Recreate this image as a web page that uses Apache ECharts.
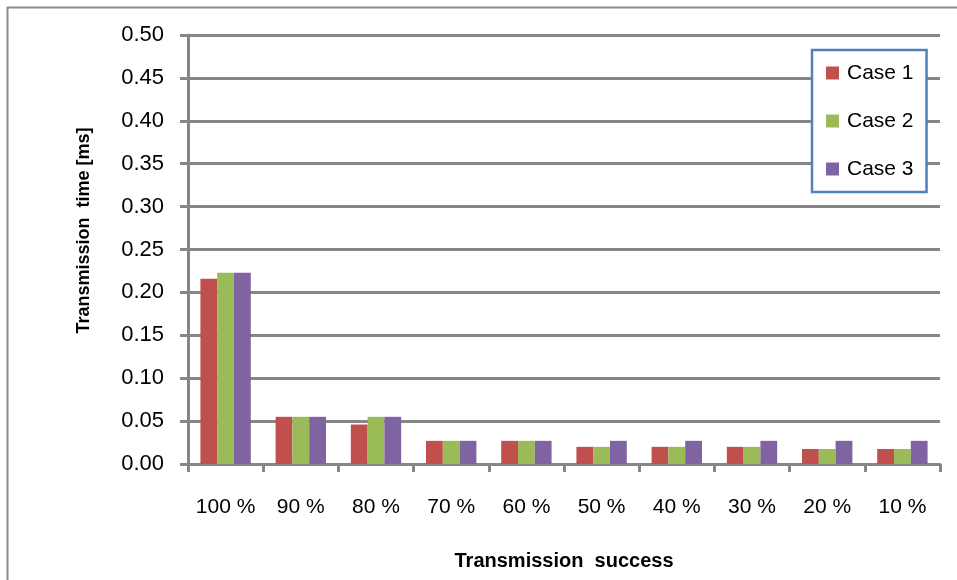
<!DOCTYPE html>
<html>
<head>
<meta charset="utf-8">
<script src="https://cdn.jsdelivr.net/npm/echarts@6/dist/echarts.min.js"></script>
<style>
  html, body { margin: 0; padding: 0; background: #fff; }
  #chart { width: 957px; height: 580px; }
</style>
</head>
<body>
<div id="chart"></div>
<script>
// Transmission success levels on the x axis
const categories = ['100 %', '90 %', '80 %', '70 %', '60 %', '50 %', '40 %', '30 %', '20 %', '10 %'];

// Transmission time in ms for each case
const case1 = [0.216, 0.055, 0.046, 0.027, 0.027, 0.020, 0.020, 0.020, 0.0175, 0.0175];
const case2 = [0.223, 0.055, 0.055, 0.027, 0.027, 0.020, 0.020, 0.020, 0.0175, 0.0175];
const case3 = [0.223, 0.055, 0.055, 0.027, 0.027, 0.027, 0.027, 0.027, 0.027, 0.027];

const seriesNames = ['Case 1', 'Case 2', 'Case 3'];
const colors = ['#c0504d', '#9bbb59', '#8064a2'];

const font = '"Liberation Sans", "Noto Sans", sans-serif';
const gridGrey = '#868686';

const chart = echarts.init(document.getElementById('chart'), null, { renderer: 'canvas' });

const makeBar = (name, data, color) => ({
  name,
  type: 'bar',
  data,
  barGap: '0%',
  barCategoryGap: '33%',
  itemStyle: { color },
  emphasis: { disabled: true }
});

chart.setOption({
  animation: false,
  color: colors,
  graphic: [{
    // chart-area frame, running off the right and bottom edges
    type: 'rect',
    shape: { x: 7.5, y: 7.5, width: 1000, height: 1000 },
    style: { fill: 'none', stroke: '#8c8c8c', lineWidth: 2 },
    z: -1
  }],
  grid: { left: 188, right: 17, top: 35, bottom: 116 },
  legend: {
    orient: 'vertical',
    left: 812,
    top: 50,
    padding: [11, 13, 11, 14],
    itemWidth: 13,
    itemHeight: 13,
    itemGap: 24,
    icon: 'rect',
    backgroundColor: '#fff',
    borderColor: '#4f81bd',
    borderWidth: 2.5,
    data: seriesNames,
    textStyle: { fontFamily: font, fontSize: 21, lineHeight: 24, color: '#000', padding: [0, 0, 0, 3] }
  },
  xAxis: {
    type: 'category',
    data: categories,
    name: 'Transmission  success',
    nameLocation: 'middle',
    nameGap: 87,
    nameTextStyle: { fontFamily: font, fontSize: 20, fontWeight: 'bold', color: '#000' },
    axisLine: { lineStyle: { color: gridGrey, width: 3 } },
    axisTick: { show: true, length: 8, lineStyle: { color: gridGrey, width: 3 } },
    axisLabel: { interval: 0, hideOverlap: false, fontFamily: font, fontSize: 21, color: '#000', margin: 33 }
  },
  yAxis: {
    type: 'value',
    min: 0,
    max: 0.5,
    interval: 0.05,
    name: 'Transmission  time [ms]',
    nameLocation: 'middle',
    nameGap: 95,
    nameRotate: 90,
    nameTextStyle: { fontFamily: font, fontSize: 18, fontWeight: 'bold', color: '#000', padding: [0, 0, 0, 38] },
    axisLine: { show: true, lineStyle: { color: gridGrey, width: 3 } },
    axisTick: { show: true, length: 8, lineStyle: { color: gridGrey, width: 3 } },
    axisLabel: { fontFamily: font, fontSize: 22, color: '#000', margin: 24, formatter: v => v.toFixed(2) },
    splitLine: { show: true, lineStyle: { color: gridGrey, width: 3 } }
  },
  series: [
    makeBar(seriesNames[0], case1, colors[0]),
    makeBar(seriesNames[1], case2, colors[1]),
    makeBar(seriesNames[2], case3, colors[2])
  ]
});
</script>
</body>
</html>
